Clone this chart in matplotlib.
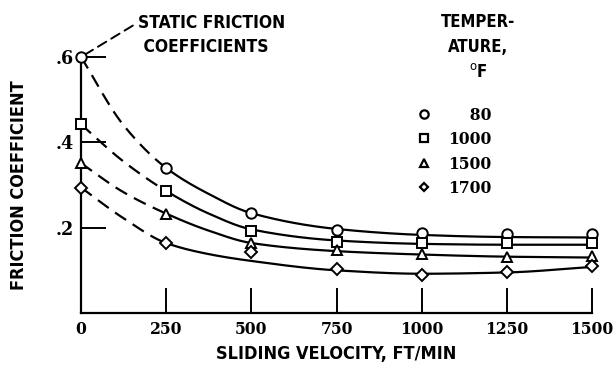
import numpy as np
import matplotlib
matplotlib.use("Agg")
import matplotlib.pyplot as plt
from matplotlib.lines import Line2D

# ---------- DATA ----------
velocity = [0, 250, 500, 750, 1000, 1250, 1500]          # ft/min
temps = ["80", "1000", "1500", "1700"]                    # deg F
markers = ["o", "s", "^", "D"]

f_80 = [0.600, 0.339, 0.234, 0.194, 0.188, 0.186, 0.184]
f_1000 = [0.442, 0.285, 0.192, 0.167, 0.163, 0.163, 0.163]
f_1500 = [0.351, 0.233, 0.164, 0.147, 0.138, 0.131, 0.133]
f_1700 = [0.294, 0.163, 0.143, 0.102, 0.089, 0.097, 0.110]

# faired curves as drawn on the original (read at these velocities)
curve_x = [0, 125, 250, 375, 500, 750, 1000, 1250, 1500]
c_80 = [0.600, 0.440, 0.340, 0.279, 0.234, 0.197, 0.183, 0.178, 0.177]
c_1000 = [0.442, 0.355, 0.286, 0.233, 0.196, 0.170, 0.162, 0.160, 0.160]
c_1500 = [0.351, 0.283, 0.233, 0.193, 0.164, 0.145, 0.137, 0.132, 0.130]
c_1700 = [0.294, 0.222, 0.164, 0.138, 0.122, 0.100, 0.092, 0.095, 0.108]

xticks = [0, 250, 500, 750, 1000, 1250, 1500]
yticks = [0.2, 0.4, 0.6]
ytick_labels = [".2", ".4", ".6"]

points = [f_80, f_1000, f_1500, f_1700]
curves = [c_80, c_1000, c_1500, c_1700]


def pchip(x, y, xs):
    # monotone cubic hermite, only used to draw the faired curve smoothly
    x = np.asarray(x, float)
    y = np.asarray(y, float)
    h = np.diff(x)
    d = np.diff(y) / h
    m = np.zeros_like(y)
    for k in range(1, len(x) - 1):
        if d[k - 1] * d[k] > 0:
            w1 = 2 * h[k] + h[k - 1]
            w2 = h[k] + 2 * h[k - 1]
            m[k] = (w1 + w2) / (w1 / d[k - 1] + w2 / d[k])
    m[0] = d[0]
    m[-1] = d[-1]
    idx = np.clip(np.searchsorted(x, xs) - 1, 0, len(h) - 1)
    t = (xs - x[idx]) / h[idx]
    h00 = 2 * t**3 - 3 * t**2 + 1
    h10 = t**3 - 2 * t**2 + t
    h01 = -2 * t**3 + 3 * t**2
    h11 = t**3 - t**2
    return (h00 * y[idx] + h10 * h[idx] * m[idx]
            + h01 * y[idx + 1] + h11 * h[idx] * m[idx + 1])


sans = dict(family="DejaVu Sans", stretch="condensed", weight="bold")
num = dict(family="DejaVu Serif", stretch="condensed", weight="bold")

fig = plt.figure(figsize=(6.13, 3.71), dpi=100)
ax = fig.add_axes([81 / 613, 58 / 371, 511 / 613, 256 / 371])

# ---------- CURVES ----------
for c in curves:
    xs = np.linspace(0, 250, 80)
    ax.plot(xs, pchip(curve_x, c, xs), color="black", lw=1.6,
            ls=(0, (6, 3.5)), clip_on=False)
    xs = np.linspace(250, 1500, 300)
    ax.plot(xs, pchip(curve_x, c, xs), color="black", lw=1.6, clip_on=False)

# ---------- DATA POINTS ----------
handles = []
for vals, m in zip(points, markers):
    ms = 6 if m == "D" else 7.5
    ax.plot(velocity, vals, ls="none", marker=m, ms=ms, mfc="white",
            mec="black", mew=1.4, clip_on=False, zorder=5)
    handles.append(Line2D([], [], ls="none", marker=m, ms=ms - 1.5,
                          mfc="white", mec="black", mew=1.6))

# ---------- AXES ----------
ax.set_xlim(0, 1500)
ax.set_ylim(0, 0.6)
for s in ["top", "right"]:
    ax.spines[s].set_visible(False)
ax.spines["left"].set_linewidth(1.6)
ax.spines["bottom"].set_linewidth(1.6)

ax.set_xticks(xticks)
ax.set_xticklabels([str(v) for v in xticks], fontsize=12.5, **num)
ax.set_yticks(yticks)
ax.set_yticklabels(ytick_labels, fontsize=14, **num)
ax.tick_params(axis="both", direction="in", length=18, width=1.4, pad=5)
ax.tick_params(axis="x", pad=6)
ax.xaxis.get_major_ticks()[0].tick1line.set_visible(False)

ax.set_xlabel("SLIDING VELOCITY, FT/MIN", fontsize=13, labelpad=5, **sans)
ax.set_ylabel("FRICTION COEFFICIENT", fontsize=13, labelpad=20, **sans)

# ---------- ANNOTATION ----------
ax.annotate("STATIC FRICTION\n COEFFICIENTS", xy=(0, 0.6),
            xytext=(138 / 613, 1 - 14 / 371), textcoords="figure fraction",
            ha="left", va="top", fontsize=12.5, linespacing=1.45,
            arrowprops=dict(arrowstyle="-", color="black", lw=1.4,
                            ls=(0, (5, 3)), shrinkA=2, shrinkB=3,
                            relpos=(0, 0.8)),
            **sans)

# ---------- LEGEND ----------
fig.text(478 / 613, 1 - 13 / 371, "TEMPER-\nATURE,\n$^{\\rm o}$F",
         ha="center", va="top", fontsize=12, linespacing=1.5, **sans)
leg = ax.legend(handles, ["\u2007\u200780", "1000", "1500", "1700"],
                loc="upper left", bbox_to_anchor=(415 / 613, 1 - 107 / 371),
                bbox_transform=fig.transFigure, frameon=False,
                handlelength=1.0, handletextpad=0.9, labelspacing=0.42,
                prop=dict(size=12.5, **num),
                borderpad=0, borderaxespad=0)

fig.savefig("out.png", dpi=100)
